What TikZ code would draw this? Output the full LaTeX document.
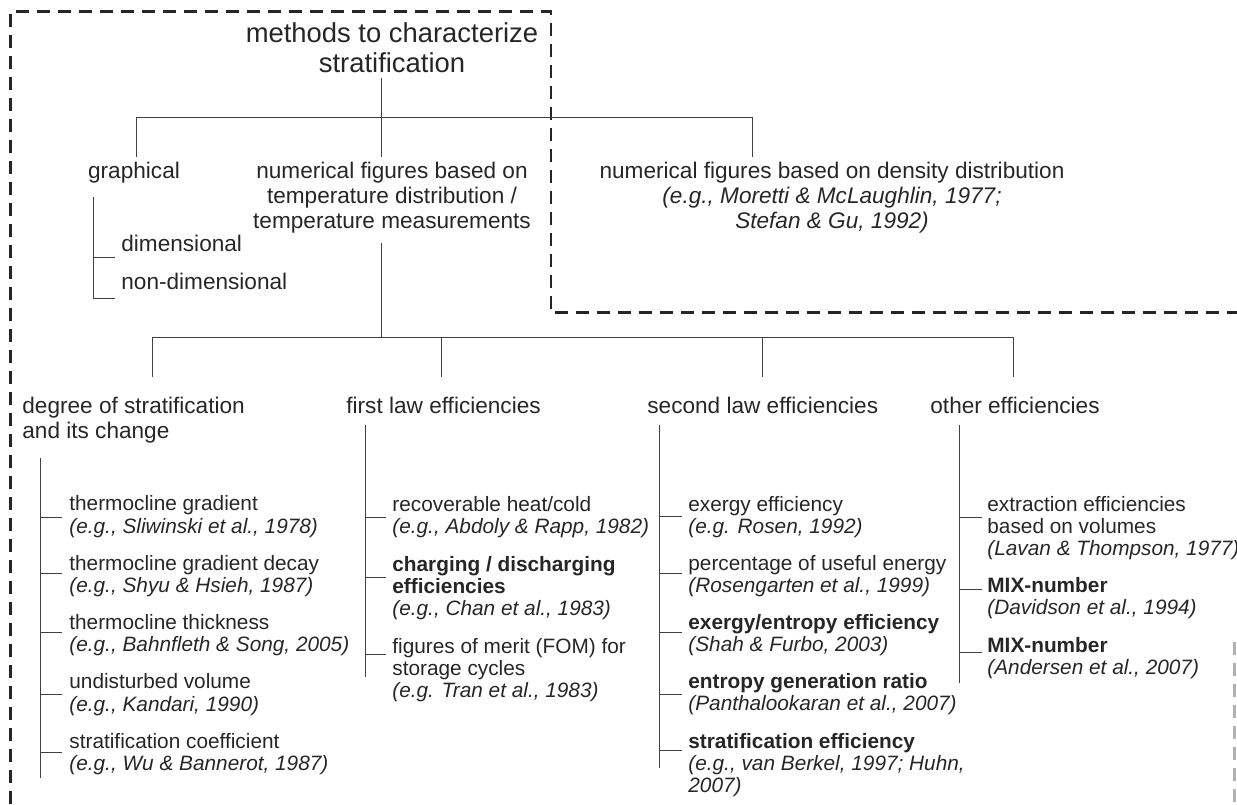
\documentclass[tikz,border=0pt]{standalone}
\usepackage{fontspec}
\setmainfont{Liberation Sans}
\begin{document}
\begin{tikzpicture}[x=0.5pt,y=-0.5pt,
    line/.style={black!75,line width=0.5pt},
    box/.style={black!85,line width=1.4pt,dash pattern=on 6.5pt off 4pt},
    txt/.style={inner sep=0pt,text=black!85},
    ttl/.style={txt,anchor=north,align=center,font=\fontsize{13.7}{15}\selectfont},
    top/.style={txt,anchor=north,align=center,font=\fontsize{11.3}{12.5}\selectfont},
    head/.style={txt,anchor=north west,align=left,font=\fontsize{11.3}{12.3}\selectfont},
    item/.style={txt,anchor=north west,align=left,font=\fontsize{10.4}{11.2}\selectfont}]
  \useasboundingbox (0,0) rectangle (1237,804);
  % dashed frame
  \draw[box] (10.5,804) -- (10.5,11.7) -- (551,11.7) -- (551,312.7) -- (1237,312.7);
  \draw[box,gray!60] (1234.5,642) -- (1234.5,804);
  % top level
  \node[ttl] (root) at (392,22) {methods to characterize\\stratification};
  \node[top] (gra) at (134,162) {graphical};
  \node[top] (tmp) at (392,162) {numerical figures based on\\temperature distribution /\\temperature measurements};
  \node[top] (den) at (832,162) {numerical figures based on density distribution\\\textit{(e.g., Moretti \& McLaughlin, 1977;}\\\textit{Stefan \& Gu, 1992)}};
  \coordinate (b1) at (381,117);
  \coordinate (b1l) at (136,117);
  \coordinate (b1r) at (752,117);
  \draw[line,shorten <=2.5pt] (b1 |- root.south) -- (b1);
  \draw[line] (b1l) -- (b1r);
  \draw[line,shorten >=2.5pt] (b1l) -- (b1l |- gra.north);
  \draw[line,shorten >=2.5pt] (b1) -- (b1 |- tmp.north);
  \draw[line,shorten >=2.5pt] (b1r) -- (b1r |- den.north);
  % graphical
  \coordinate (g) at (93,197);
  \node[head] (g1) at (121,235) {dimensional};
  \node[head] (g2) at (121,273) {non-dimensional};
  \draw[line,shorten >=3pt] (g) |- (g2.west |- 0,298);
  \draw[line,shorten >=3pt] (g |- 0,257) -- (g1.west |- 0,257);
  % second level
  \coordinate (b2) at (381,337);
  \draw[line,shorten <=4.5pt] (b2 |- tmp.south) -- (b2);
  \draw[line] (152,337) -- (1013,337);
  \node[head] (h1) at (22,397) {degree of stratification\\and its change};
  \node[head] (h2) at (346,397) {first law efficiencies};
  \node[head] (h3) at (647,397) {second law efficiencies};
  \node[head] (h4) at (930,397) {other efficiencies};
  \foreach \x/\n in {152/h1,441/h2,762/h3,1013/h4}
    \draw[line,shorten >=10pt] (\x,337) -- (\x,0 |- \n.north);
  % degree of stratification
  \coordinate (c1) at (40,458);
  \draw[line] (c1) -- (40,778);
  \foreach \b/\k/\t [count=\i] in {
      510.5/517/{thermocline gradient\\\textit{(e.g., Sliwinski et al., 1978)}},
      570/573/{thermocline gradient decay\\\textit{(e.g., Shyu \& Hsieh, 1987)}},
      629/632/{thermocline thickness\\\textit{(e.g., Bahnfleth \& Song, 2005)}},
      688.5/694/{undisturbed volume\\\textit{(e.g., Kandari, 1990)}},
      748/752/{stratification coefficient\\\textit{(e.g., Wu \& Bannerot, 1987)}}} {
    \node[item] (d\i) at (69,\b-15) {\t};
    \draw[line,shorten >=3.5pt] (c1 |- 0,\k) -- (d\i.west |- 0,\k);
  }
  % first law
  \coordinate (c2) at (365,425);
  \draw[line] (c2) -- (365,677);
  \foreach \b/\k/\t [count=\i] in {
      510.7/517/{recoverable heat/cold\\\textit{(e.g., Abdoly \& Rapp, 1982)}},
      570.7/577/{\textbf{charging / discharging}\\\textbf{efficiencies}\\\textit{(e.g., Chan et al., 1983)}},
      652.7/654/{figures of merit (FOM) for\\storage cycles\\\textit{(e.g. Tran et al., 1983)}}} {
    \node[item] (f\i) at (392,\b-15) {\t};
    \draw[line,shorten >=3pt] (c2 |- 0,\k) -- (f\i.west |- 0,\k);
  }
  % second law
  \coordinate (c3) at (659,425);
  \draw[line] (c3) -- (659,768);
  \foreach \b/\k/\t [count=\i] in {
      510.7/516/{exergy efficiency\\\textit{(e.g. Rosen, 1992)}},
      570/573/{percentage of useful energy\\\textit{(Rosengarten et al., 1999)}},
      629/632/{\textbf{exergy/entropy efficiency}\\\textit{(Shah \& Furbo, 2003)}},
      688/694/{\textbf{entropy generation ratio}\\\textit{(Panthalookaran et al., 2007)}},
      747.7/750/{\textbf{stratification efficiency}\\\textit{(e.g., van Berkel, 1997; Huhn,}\\\textit{2007)}}} {
    \node[item] (s\i) at (688,\b-15) {\t};
    \draw[line,shorten >=3pt] (c3 |- 0,\k) -- (s\i.west |- 0,\k);
  }
  % other
  \coordinate (c4) at (959,425);
  \draw[line] (c4) -- (959,683);
  \foreach \b/\k/\t [count=\i] in {
      510.7/517/{extraction efficiencies\\based on volumes\\\textit{(Lavan \& Thompson, 1977)}},
      591.7/589/{\textbf{MIX-number}\\\textit{(Davidson et al., 1994)}},
      651.7/652/{\textbf{MIX-number}\\\textit{(Andersen et al., 2007)}}} {
    \node[item] (o\i) at (987,\b-15) {\t};
    \draw[line,shorten >=2.5pt] (c4 |- 0,\k) -- (o\i.west |- 0,\k);
  }
\end{tikzpicture}
\end{document}
